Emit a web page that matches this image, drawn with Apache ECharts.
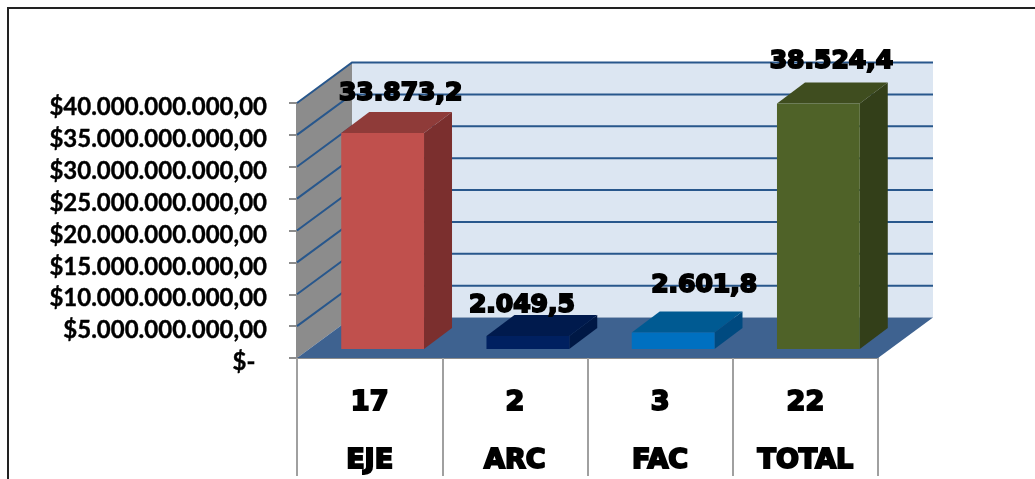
<!DOCTYPE html>
<html lang="es">
<head>
    <meta charset="UTF-8">
    <title>EJE ARC FAC TOTAL</title>
    <script src="https://cdn.jsdelivr.net/npm/echarts@6/dist/echarts.min.js"></script>
    <style>
        * { margin: 0; padding: 0; }
        body { background: #fff; overflow: hidden; }
        #paint { width: 1035px; height: 479px; }
    </style>
</head>
<body>
    <div id="paint"></div>
    <script>
        // values
        var categories = ['EJE', 'ARC', 'FAC', 'TOTAL'];
        var counts = ['17', '2', '3', '22'];
        var values = [33873200000, 2049500000, 2601800000, 38524400000];
        var valueLabels = ['33.873,2', '2.049,5', '2.601,8', '38.524,4'];
        var yTicks = [5e9, 10e9, 15e9, 20e9, 25e9, 30e9, 35e9, 40e9];

        // colors: front, top, side
        var barColors = [
            ['#c0504d', '#8f3b39', '#7b2f2e'],
            ['#002060', '#001a4d', '#001845'],
            ['#0070c0', '#005a92', '#004a80'],
            ['#4f6228', '#3f4d1f', '#333f19']
        ];
        // labels were moved by hand in the original, pixels from the bar's front top
        var labelNudge = [[18, -40], [-6, -30], [31, -47], [13, -42]];

        var DEPTH_X = 55, DEPTH_Y = -40.5;
        var BAR_DX = 28, BAR_DY = -21;
        var BAR_SHIFT_X = 13, BAR_SHIFT_Y = -9;
        var LABEL_FONT = '"DejaVu Sans", sans-serif';

        function plotEdges(api) {
            var band = api.size([1, 0])[0];
            var c = api.coord([0, 0]);
            return { left: c[0] - band / 2, right: c[0] - band / 2 + band * categories.length, base: c[1], top: api.coord([0, 40e9])[1] };
        }

        function poly(points, fill) {
            return { type: 'polygon', shape: { points: points }, style: { fill: fill } };
        }

        function renderWalls(params, api) {
            var e = plotEdges(api);
            return {
                type: 'group',
                children: [
                    poly([[e.left, e.base], [e.left, e.top], [e.left + DEPTH_X, e.top + DEPTH_Y], [e.left + DEPTH_X, e.base + DEPTH_Y]], '#8c8c8c'),
                    poly([[e.left + DEPTH_X, e.top + DEPTH_Y], [e.right + DEPTH_X, e.top + DEPTH_Y], [e.right + DEPTH_X, e.base + DEPTH_Y], [e.left + DEPTH_X, e.base + DEPTH_Y]], '#dce6f2')
                ]
            };
        }

        function renderFloor(params, api) {
            var e = plotEdges(api);
            return poly([[e.left, e.base], [e.right, e.base], [e.right + DEPTH_X, e.base + DEPTH_Y], [e.left + DEPTH_X, e.base + DEPTH_Y]], '#3e6290');
        }

        function renderGridLine(params, api) {
            var e = plotEdges(api);
            var y = api.coord([0, api.value(1)])[1];
            return {
                type: 'polyline',
                shape: { points: [[e.left, y], [e.left + DEPTH_X, y + DEPTH_Y], [e.right + DEPTH_X, y + DEPTH_Y]] },
                style: { fill: null, stroke: '#28578c', lineWidth: 2 }
            };
        }

        function renderBar(params, api) {
            var i = params.dataIndex;
            var top = api.coord([i, api.value(1)]);
            var base = api.coord([i, 0]);
            var w = api.size([1, 0])[0] * 0.57;
            var x0 = top[0] + BAR_SHIFT_X - w / 2, x1 = x0 + w;
            var y0 = top[1] + BAR_SHIFT_Y, y1 = base[1] + BAR_SHIFT_Y;
            var c = barColors[i];
            return {
                type: 'group',
                children: [
                    poly([[x0, y0], [x1, y0], [x1 + BAR_DX, y0 + BAR_DY], [x0 + BAR_DX, y0 + BAR_DY]], c[1]),
                    poly([[x1, y0], [x1 + BAR_DX, y0 + BAR_DY], [x1 + BAR_DX, y1 + BAR_DY], [x1, y1]], c[2]),
                    poly([[x0, y0], [x1, y0], [x1, y1], [x0, y1]], c[0])
                ]
            };
        }

        function renderValueLabel(params, api) {
            var i = params.dataIndex;
            var top = api.coord([i, api.value(1)]);
            return {
                type: 'text',
                x: top[0] + BAR_SHIFT_X + labelNudge[i][0],
                y: top[1] + BAR_SHIFT_Y + labelNudge[i][1],
                style: {
                    text: valueLabels[i],
                    font: 'bold 25px ' + LABEL_FONT,
                    fill: '#000',
                    stroke: '#000',
                    lineWidth: 2,
                    align: 'center',
                    verticalAlign: 'middle'
                }
            };
        }

        var mychart = echarts.init(document.getElementById('paint'));

        var barData = values.map(function (v, i) { return [i, v]; });

        var option = {
            animation: false,
            graphic: [{
                type: 'rect',
                shape: { x: 8, y: 8, width: 1200, height: 700 },
                style: { fill: null, stroke: '#222', lineWidth: 2 },
                silent: true
            }],
            grid: { left: 297, right: 157, top: 103, bottom: 121, outerBoundsMode: 'none' },
            xAxis: {
                type: 'category',
                data: categories,
                axisLine: { lineStyle: { color: '#8c8c8c', width: 2 } },
                axisTick: { show: true, alignWithLabel: false, length: 118, lineStyle: { color: '#a0a0a0', width: 2 } },
                axisLabel: {
                    margin: 16,
                    color: '#000',
                    fontFamily: LABEL_FONT,
                    fontWeight: 'bold',
                    fontSize: 27,
                    lineHeight: 58,
                    textBorderColor: '#000',
                    textBorderWidth: 2,
                    formatter: function (name, i) { return counts[i] + '\n' + name; }
                }
            },
            yAxis: {
                type: 'value',
                min: 0,
                max: 40e9,
                interval: 5e9,
                axisLine: { show: true, lineStyle: { color: '#8c8c8c', width: 2 } },
                axisTick: { show: true, length: 8, lineStyle: { color: '#8c8c8c', width: 2 } },
                splitLine: { show: false },
                axisLabel: {
                    margin: 30,
                    verticalAlign: 'top',
                    lineHeight: 9,
                    color: '#000',
                    fontFamily: 'Lato, sans-serif',
                    fontWeight: 'bold',
                    fontSize: 24,
                    textBorderColor: '#000',
                    textBorderWidth: 0.4,
                    formatter: function (v) {
                        if (v === 0) return '$-  ';
                        var s = String(v).replace(/\B(?=(\d{3})+$)/g, '.');
                        return '$' + s + ',00';
                    }
                }
            },
            series: [
                { type: 'custom', silent: true, renderItem: renderWalls, data: [[0, 0]] },
                {
                    type: 'custom', silent: true, renderItem: renderGridLine,
                    data: yTicks.map(function (t) { return [0, t]; })
                },
                { type: 'custom', silent: true, renderItem: renderFloor, data: [[0, 0]] },
                { type: 'custom', silent: true, renderItem: renderBar, data: barData },
                { type: 'custom', silent: true, renderItem: renderValueLabel, data: barData, z: 5 }
            ]
        };
        mychart.setOption(option);
    </script>
</body>
</html>
